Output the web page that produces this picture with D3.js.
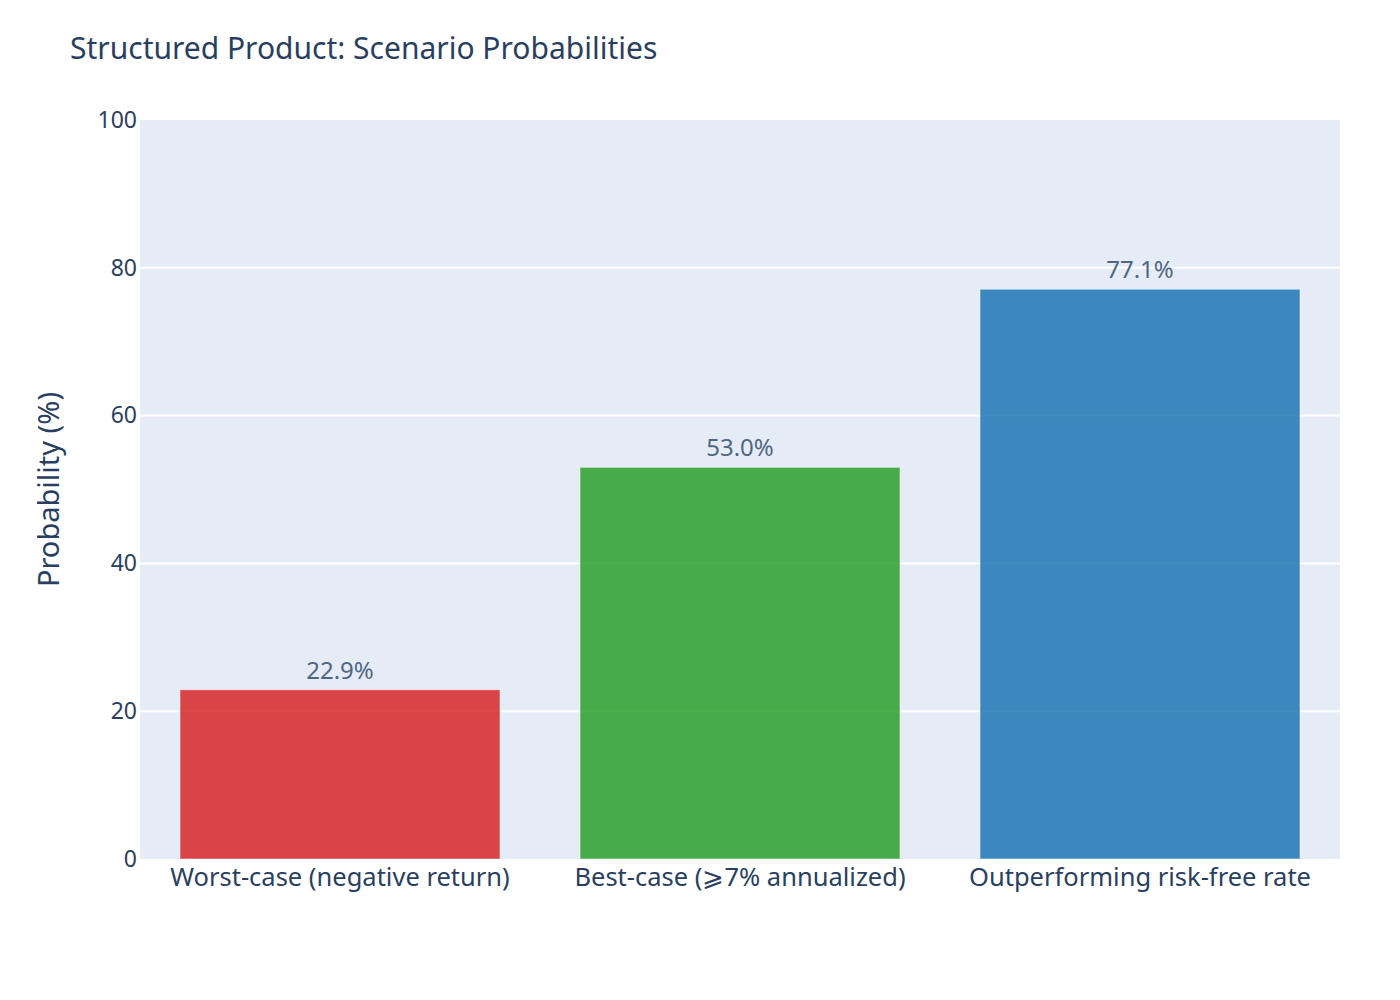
<!DOCTYPE html>
<html>
<head>
<meta charset="utf-8">
<script src="https://cdn.jsdelivr.net/npm/d3@7"></script>
<style>
  body { margin: 0; background: #fff; }
  text { font-family: "Source Sans Pro", "Noto Sans", sans-serif; }
</style>
</head>
<body>
<svg id="chart"></svg>
<script>
// scenario data
var categories = ["Worst-case (negative return)", "Best-case (\u2A7E7% annualized)", "Outperforming risk-free rate"];
var probabilities = [22.9, 53.0, 77.1];
var barColors = ["#d62728", "#2ca02c", "#1f77b4"];
var yTicks = [0, 20, 40, 60, 80, 100];

var svgWidth = 1400, svgHeight = 1000;
var margin = {left: 140, right: 60, top: 120, bottom: 141};

var svg = d3.select("#chart")
    .attr("width", svgWidth)
    .attr("height", svgHeight);

var plotW = svgWidth - margin.left - margin.right;
var plotH = svgHeight - margin.top - margin.bottom;

var xScale = d3.scaleBand()
    .domain(categories)
    .range([0, plotW])
    .paddingInner(0.2)
    .paddingOuter(0.1);

var yScale = d3.scaleLinear()
    .domain([0, 100])
    .range([plotH, 0]);

var g = svg.append("g")
    .attr("transform", "translate(" + margin.left + "," + margin.top + ")");

g.append("rect")
    .attr("width", plotW)
    .attr("height", plotH)
    .attr("fill", "#e5ecf6");

// gridlines
g.selectAll(".grid")
    .data(yTicks.filter(function (d) { return d > 0 && d < 100; }))
    .enter()
    .append("line")
    .attr("x1", 0)
    .attr("x2", plotW)
    .attr("y1", function (d) { return yScale(d); })
    .attr("y2", function (d) { return yScale(d); })
    .attr("stroke", "#fff")
    .attr("stroke-width", 2);

g.selectAll(".bar")
    .data(probabilities)
    .enter()
    .append("rect")
    .attr("x", function (d, i) { return xScale(categories[i]); })
    .attr("width", xScale.bandwidth())
    .attr("y", function (d) { return yScale(d); })
    .attr("height", function (d) { return plotH - yScale(d); })
    .attr("fill", function (d, i) { return barColors[i]; })
    .attr("fill-opacity", 0.85)
    .attr("stroke", "#fff")
    .attr("stroke-opacity", 0.5)
    .attr("stroke-width", 1);

g.selectAll(".val")
    .data(probabilities)
    .enter()
    .append("text")
    .text(function (d) { return d.toFixed(1) + "%"; })
    .attr("x", function (d, i) { return xScale(categories[i]) + xScale.bandwidth() / 2; })
    .attr("y", function (d) { return yScale(d) - 11; })
    .attr("text-anchor", "middle")
    .attr("font-size", 24)
    .attr("fill", "#506784");

// axes
var yAxis = d3.axisLeft(yScale).tickValues(yTicks).tickSize(0).tickPadding(3);
var yG = g.append("g").call(yAxis);
yG.select(".domain").remove();
yG.selectAll("text")
    .attr("font-size", 23)
    .attr("fill", "#2a3f5f")
    .attr("font-family", null);

var xAxis = d3.axisBottom(xScale).tickSize(0).tickPadding(9);
var xG = g.append("g")
    .attr("transform", "translate(0," + plotH + ")")
    .call(xAxis);
xG.select(".domain").remove();
xG.selectAll("text")
    .attr("font-size", 25.5)
    .attr("fill", "#2a3f5f")
    .attr("font-family", null);

svg.append("text")
    .text("Probability (%)")
    .attr("transform", "translate(59," + (margin.top + plotH / 2) + ") rotate(-90)")
    .attr("text-anchor", "middle")
    .attr("font-size", 29)
    .attr("fill", "#2a3f5f");

svg.append("text")
    .text("Structured Product: Scenario Probabilities")
    .attr("x", 70)
    .attr("y", 59)
    .attr("font-size", 30)
    .attr("fill", "#2a3f5f");
</script>
</body>
</html>
